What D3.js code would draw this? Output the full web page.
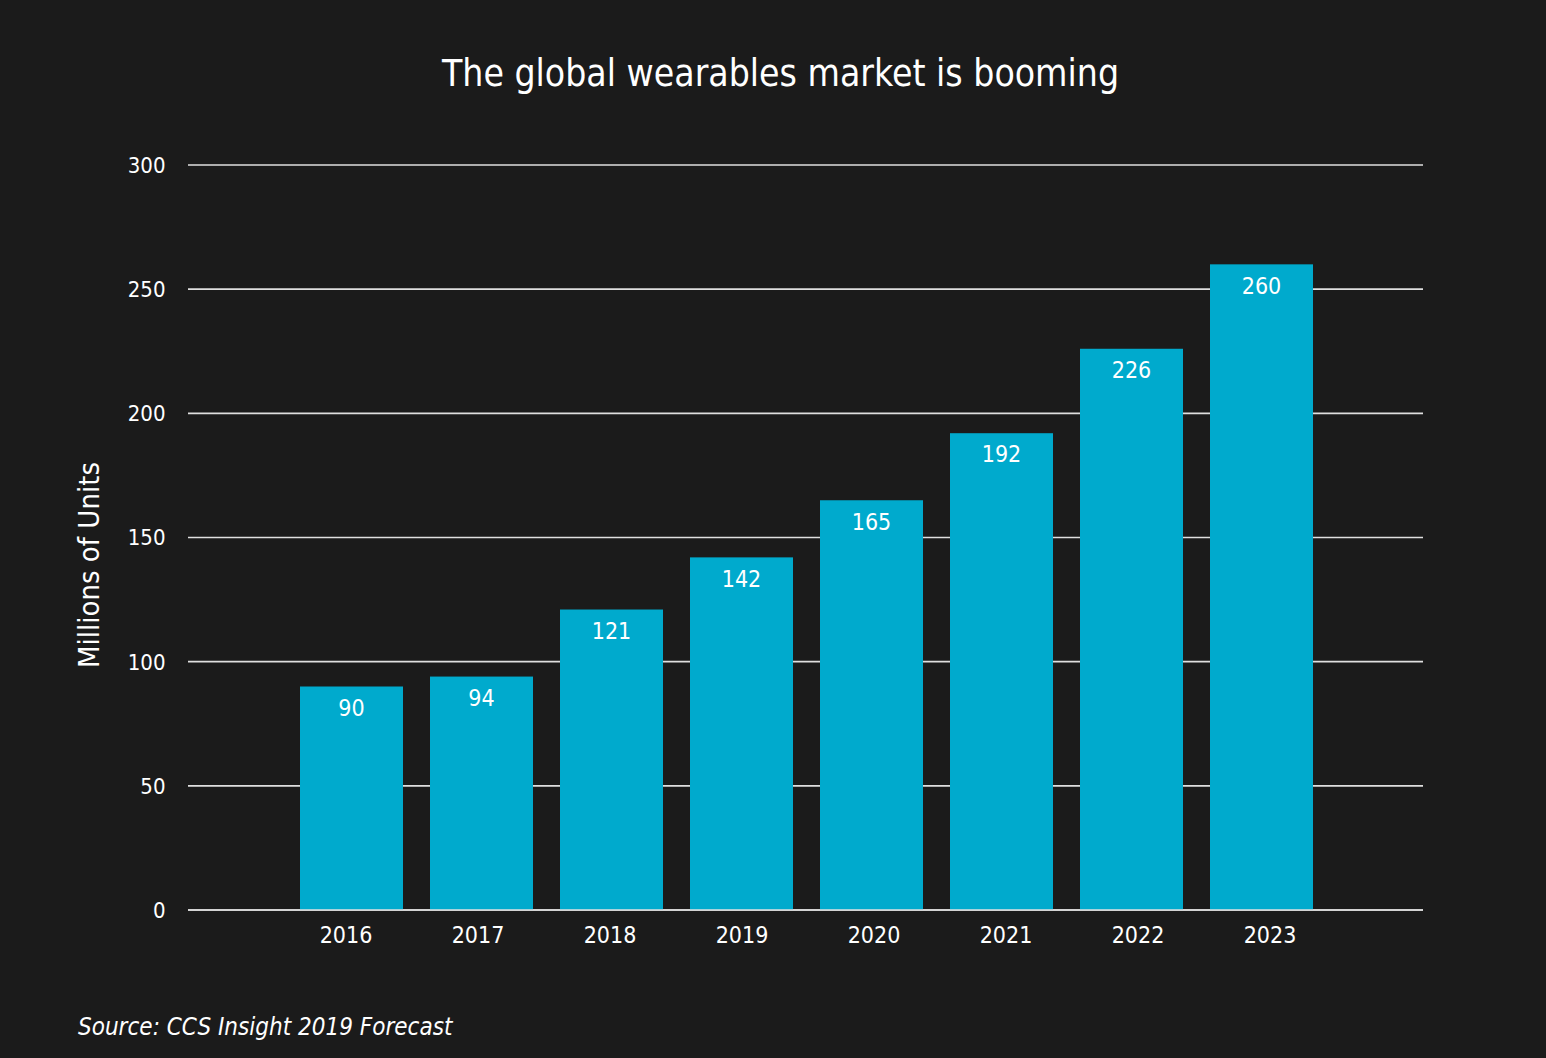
<!DOCTYPE html>
<html><head><meta charset="utf-8">
<script src="https://cdn.jsdelivr.net/npm/d3@7"></script>
<style>html,body{margin:0;padding:0;background:#1b1b1b;}svg{display:block;}</style>
</head><body>
<svg id="chart" width="1546" height="1058"></svg>
<script>
const years = ["2016","2017","2018","2019","2020","2021","2022","2023"];
const units = [90, 94, 121, 142, 165, 192, 226, 260];
const yTicks = [0, 50, 100, 150, 200, 250, 300];
const titleText = "The global wearables market is booming";
const yLabel = "Millions of Units";
const sourceText = "Source: CCS Insight 2019 Forecast";

const FONT = "'DejaVu Sans Condensed', 'DejaVu Sans', sans-serif";
const svg = d3.select("#chart");
svg.append("rect").attr("width",1546).attr("height",1058).attr("fill","#1b1b1b");

const y = d3.scaleLinear().domain([0,300]).range([910,165]);
// bars: step 130, width 103, first bar starts at 300
const xb = d3.scaleBand().domain(years).range([300, 300 + 130*8 - 27]).paddingInner(27/130).paddingOuter(0);
const xLab = d3.scalePoint().domain(years).range([346, 1270]);

function txt(sel){ return sel.attr("fill","#fff").style("font-family",FONT).style("font-stretch","condensed"); }

// gridlines
svg.append("g").selectAll("line").data(yTicks).join("line")
  .attr("x1",188).attr("x2",1423)
  .attr("y1",d=>y(d)).attr("y2",d=>y(d))
  .attr("stroke","#e0e0e0").attr("stroke-width",1.6);

// y tick labels
txt(svg.append("g").selectAll("text").data(yTicks).join("text"))
  .attr("x",165.5).attr("y",d=>y(d)).attr("dy","0.36em")
  .attr("text-anchor","end")
  .style("font-size","22px").text(d=>d);

// bars
svg.append("g").selectAll("rect").data(units).join("rect")
  .attr("x",(d,i)=>xb(years[i])).attr("width",xb.bandwidth())
  .attr("y",d=>y(d)).attr("height",d=>y(0)-y(d))
  .attr("fill","#00aacd");

// baseline on top
svg.append("line").attr("x1",188).attr("x2",1423).attr("y1",y(0)).attr("y2",y(0))
  .attr("stroke","#e0e0e0").attr("stroke-width",1.6);

// value labels
txt(svg.append("g").selectAll("text").data(units).join("text"))
  .attr("x",(d,i)=>xb(years[i])+xb.bandwidth()/2).attr("y",d=>y(d)+21).attr("dy","0.36em")
  .attr("text-anchor","middle")
  .style("font-size","23px").text(d=>d);

// x labels
txt(svg.append("g").selectAll("text").data(years).join("text"))
  .attr("x",d=>xLab(d)).attr("y",935).attr("dy","0.36em")
  .attr("text-anchor","middle")
  .style("font-size","23px").text(d=>d);

// title
txt(svg.append("text")).attr("x",780.5).attr("y",73).attr("dy","0.35em")
  .attr("text-anchor","middle")
  .style("font-size","37px").text(titleText);

// y label
txt(svg.append("text")).attr("transform","translate(89,565) rotate(-90)").attr("dy","0.35em")
  .attr("text-anchor","middle")
  .style("font-size","29px").text(yLabel);

// source
txt(svg.append("text")).attr("x",78).attr("y",1027).attr("dy","0.35em")
  .style("font-style","italic")
  .style("font-size","24px").text(sourceText);
</script>
</body></html>
